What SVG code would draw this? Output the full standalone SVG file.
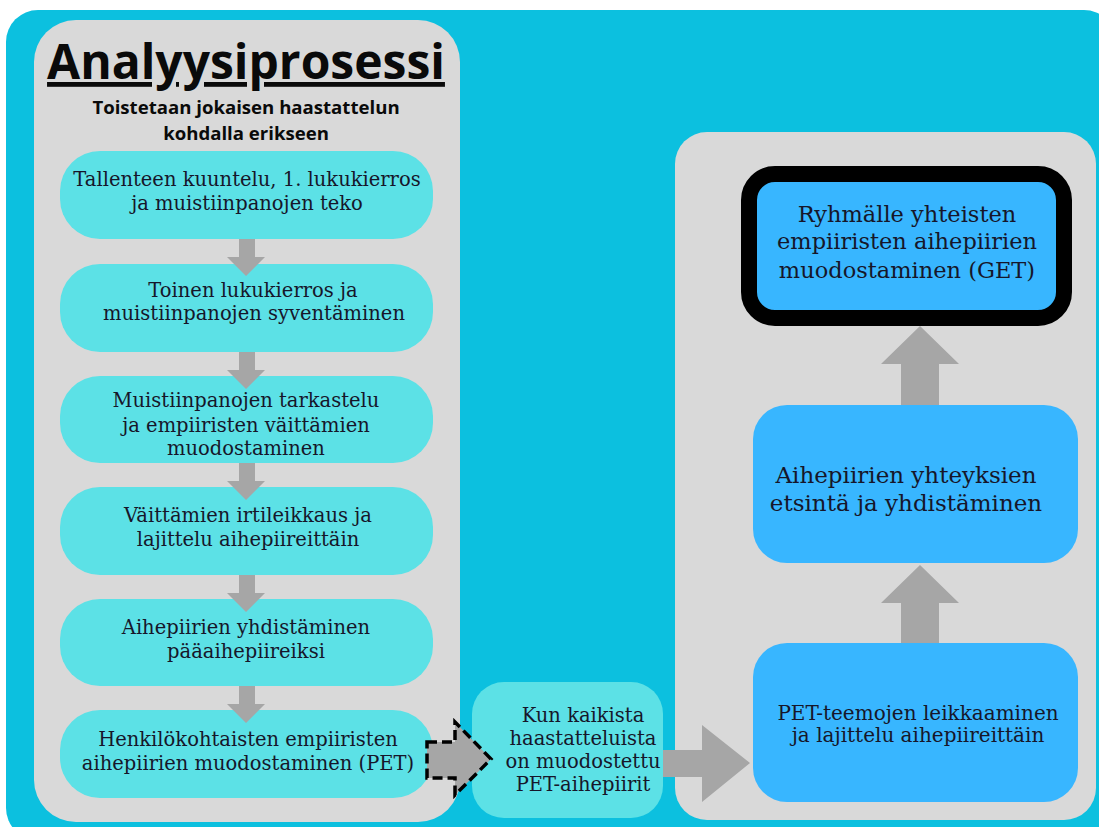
<svg xmlns="http://www.w3.org/2000/svg" width="1099" height="827" viewBox="0 0 1099 827">
<style>
.panel{fill:#d9d9d9}
.cy{fill:#5ce1e6}
.bl{fill:#38b6ff}
.arr{fill:#a6a6a6}
.t{font-family:"DejaVu Serif","Liberation Serif",serif;fill:#16162a;text-anchor:middle}
.s{font-size:19.5px}
.m{font-size:22.5px}
.h{font-family:"Open Sans","Noto Sans",sans-serif;font-weight:bold;fill:#0a0a0a;text-anchor:middle}
</style>
<rect x="0" y="0" width="1099" height="827" fill="#ffffff"/>
<rect id="background" x="6" y="10" width="1110" height="830" rx="32" fill="#0cc0df"/>
<g id="left-panel">
<rect class="panel" x="34" y="20" width="426" height="802" rx="42"/>
<text class="h" x="246" y="79" font-size="48" text-decoration="underline">Analyysiprosessi</text>
<text class="h" x="246" y="114" font-size="18.6">Toistetaan jokaisen haastattelun</text>
<text class="h" x="246" y="140" font-size="18.6">kohdalla erikseen</text>
</g>
<g id="right-panel">
<rect class="panel" x="675" y="132" width="421" height="688" rx="32"/>
</g>
<g id="n1">
<rect class="cy" x="60" y="151" width="373" height="88" rx="40"/>
<text class="t s" x="247" y="186">Tallenteen kuuntelu, 1. lukukierros</text>
<text class="t s" x="247" y="210">ja muistiinpanojen teko</text>
</g>
<g id="n2">
<rect class="cy" x="60" y="264" width="373" height="88" rx="40"/>
<text class="t s" x="253" y="297">Toinen lukukierros ja</text>
<text class="t s" x="254" y="320">muistiinpanojen syventäminen</text>
</g>
<g id="n3">
<rect class="cy" x="60" y="376" width="373" height="87" rx="40"/>
<text class="t s" x="246" y="407">Muistiinpanojen tarkastelu</text>
<text class="t s" x="246" y="432">ja empiiristen väittämien</text>
<text class="t s" x="246" y="455">muodostaminen</text>
</g>
<g id="n4">
<rect class="cy" x="60" y="487" width="373" height="88" rx="40"/>
<text class="t s" x="248" y="522">Väittämien irtileikkaus ja</text>
<text class="t s" x="248" y="546">lajittelu aihepiireittäin</text>
</g>
<g id="n5">
<rect class="cy" x="60" y="599" width="373" height="87" rx="40"/>
<text class="t s" x="246" y="634">Aihepiirien yhdistäminen</text>
<text class="t s" x="246" y="658">pääaihepiireiksi</text>
</g>
<g id="n6">
<rect class="cy" x="60" y="710" width="373" height="88" rx="40"/>
<text class="t s" x="248" y="746">Henkilökohtaisten empiiristen</text>
<text class="t s" x="248" y="770">aihepiirien muodostaminen (PET)</text>
</g>
<g id="n7">
<rect class="cy" x="472" y="682" width="191" height="136" rx="32"/>
<text class="t s" x="583" y="722">Kun kaikista</text>
<text class="t s" x="583" y="745">haastatteluista</text>
<text class="t s" x="583" y="768">on muodostettu</text>
<text class="t s" x="583" y="791">PET-aihepiirit</text>
</g>
<g id="n8">
<rect class="bl" x="753" y="643" width="325" height="159" rx="34"/>
<text class="t" x="918" y="720" font-size="20">PET-teemojen leikkaaminen</text>
<text class="t" x="918" y="742" font-size="20">ja lajittelu aihepiireittäin</text>
</g>
<g id="n9">
<rect class="bl" x="753" y="405" width="325" height="158" rx="34"/>
<text class="t" x="906" y="483" font-size="23">Aihepiirien yhteyksien</text>
<text class="t" x="906" y="511" font-size="23">etsintä ja yhdistäminen</text>
</g>
<g id="n10">
<rect class="bl" x="749" y="174" width="315" height="144" rx="26" stroke="#000" stroke-width="16"/>
<text class="t m" x="907" y="222">Ryhmälle yhteisten</text>
<text class="t m" x="907" y="249">empiiristen aihepiirien</text>
<text class="t m" x="907" y="278">muodostaminen (GET)</text>
</g>
<g id="connectors">
<path class="arr" d="M239,239 H255 V257 H265 L246,276 L227,257 H239 Z"/>
<path class="arr" d="M239,352 H255 V370 H265 L246,389 L227,370 H239 Z"/>
<path class="arr" d="M239,463 H255 V481 H265 L246,500 L227,481 H239 Z"/>
<path class="arr" d="M239,575 H255 V593 H265 L246,612 L227,593 H239 Z"/>
<path class="arr" d="M239,686 H255 V704 H265 L246,723 L227,704 H239 Z"/>
<path class="arr" d="M427,742 H455 V722 L491,759 L455,795 V778 H427 Z" stroke="#000" stroke-width="3.5" stroke-dasharray="10,5"/>
<path class="arr" d="M663,750 H702 V725 L750,763 L702,802 V777 H663 Z"/>
<path class="arr" d="M901,643 V603 H881 L920,565 L959,603 H939 V643 Z"/>
<path class="arr" d="M901,405 V364 H881 L920,326 L959,364 H939 V405 Z"/>
</g>
</svg>
